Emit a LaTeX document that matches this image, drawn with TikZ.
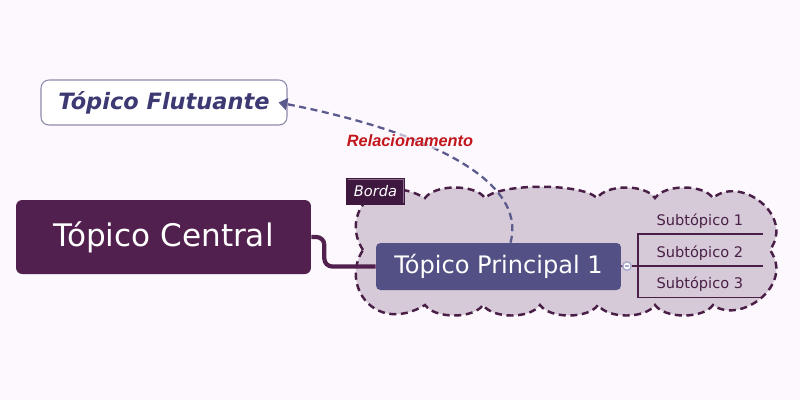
\documentclass[tikz,border=0pt]{standalone}
\usepackage{fontspec}
\setmainfont{DejaVu Sans}
\newfontfamily\relfont{Liberation Sans}
\usepackage{tikz}
\usetikzlibrary{arrows.meta,calc}
\definecolor{bgcol}{HTML}{FCF8FD}
\definecolor{centralcol}{HTML}{52204F}
\definecolor{maincol}{HTML}{525084}
\definecolor{cloudcol}{HTML}{D6CAD8}
\definecolor{cloudline}{HTML}{4A1F47}
\definecolor{bordacol}{HTML}{3E183F}
\definecolor{bordaedge}{HTML}{8E6E8E}
\definecolor{floatline}{HTML}{8F89AD}
\definecolor{floattext}{HTML}{3D3A73}
\definecolor{relcol}{HTML}{5B5A8C}
\definecolor{reltext}{HTML}{C2161C}
\definecolor{foldcol}{HTML}{A9A6CC}
\tikzset
{
    central/.style  = {rectangle, rounded corners=3.5pt, fill=centralcol, text=white, minimum width=5.9cm, minimum height=1.48cm, inner sep=0pt, font=\fontsize{17.7}{20}\selectfont},
    floating/.style = {rectangle, rounded corners=4.5pt, draw=floatline, line width=0.6pt, fill=white, text=floattext, minimum width=4.92cm, minimum height=0.9cm, inner sep=0pt, font=\fontsize{12.8}{15}\selectfont\bfseries\itshape},
    mainnode/.style = {rectangle, rounded corners=2.5pt, fill=maincol, text=white, minimum width=4.9cm, minimum height=0.94cm, inner sep=0pt, font=\fontsize{13.7}{16}\selectfont},
    bordanode/.style = {rectangle, fill=bordacol, text=white, minimum width=1.18cm, minimum height=0.54cm, inner sep=0pt, font=\fontsize{8.3}{10}\selectfont\itshape},
    subnode/.style  = {rectangle, text=cloudline, minimum width=2.5cm, inner xsep=0pt, inner ysep=0pt, text depth=0.17cm, anchor=south west, font=\fontsize{8.3}{10}\selectfont},
    fold/.style     = {circle, fill=white, draw=foldcol, line width=0.8pt, minimum size=0.17cm, inner sep=0pt},
    cloud/.style    = {fill=cloudcol, draw=cloudline, line width=1.4pt, dash pattern=on 4pt off 2.6pt},
    trunk/.style    = {draw=centralcol, line width=2.4pt, rounded corners=4.5pt},
    subline/.style  = {draw=cloudline, line width=1.1pt},
    relline/.style  = {draw=relcol, line width=1.3pt, dash pattern=on 4pt off 2.6pt, -{Triangle[length=5pt,width=6.8pt]}},
    rellabel/.style = {text=reltext, fill=bgcol, fill opacity=0.6, text opacity=1, inner sep=1pt, font=\fontsize{9.3}{11}\selectfont\relfont\bfseries\itshape}
}

\begin{document}
\begin{tikzpicture}[x=0.02cm, y=-0.02cm]
    \fill[bgcol] (0,0) rectangle (800,400);
    \draw[cloud] (363,250) .. controls (340,215) and (375,170) .. (425,198)
        .. controls (435,184) and (475,184) .. (485,198)
        .. controls (500,183) and (582,183) .. (597,198)
        .. controls (607,184) and (645,184) .. (655,198)
        .. controls (665,184) and (703,184) .. (713,198)
        .. controls (740,175) and (795,215) .. (770,250)
        .. controls (795,285) and (740,325) .. (713,305)
        .. controls (703,319) and (665,319) .. (655,305)
        .. controls (645,319) and (608,319) .. (598,305)
        .. controls (588,319) and (550,319) .. (540,305)
        .. controls (530,319) and (493,319) .. (483,305)
        .. controls (473,319) and (435,319) .. (425,305)
        .. controls (375,335) and (340,285) .. (363,250) -- cycle;

    \node[central] (central) at (163.5,237) {Tópico Central};
    \node[floating] (float) at (164,102.5) {Tópico Flutuante};
    \node[mainnode] (main) at (498.5,266.5) {Tópico Principal 1};
    \node[fold] (fold) at (627,266) {};
    \node[bordanode] (borda) at (375.5,191.5) {Borda};
    \node[subnode] (sub1) at (637,234) {Subtópico 1};
    \node[subnode] (sub2) at (637,266) {Subtópico 2};
    \node[subnode] (sub3) at (637,297.5) {Subtópico 3};

    \draw[bordaedge, line width=0.4pt] ($(borda.south east)+(-2,-2)$) -- ($(borda.north east)+(-2,2)$) -- ($(borda.north west)+(2,2)$);

    \draw[trunk] (central.east) -- ++(13,0) |- (main.west);
    \draw[subline] (main.east) -- (fold.west);
    \draw[foldcol, line width=0.8pt] ($(fold.center)+(-2.4,0)$) -- ($(fold.center)+(2.4,0)$);
    \draw[subline] (fold.east) -- ++(6,0) |- (sub1.south west) -- (sub1.south east);
    \draw[subline] (fold.east) -- (sub2.south west) -- (sub2.south east);
    \draw[subline] (fold.east) -- ++(6,0) |- (sub3.south west) -- (sub3.south east);

    \coordinate (relstart) at ($(main.north)+(12,0)$);
    \coordinate (relend) at ($(float.east)+(-9,0)$);
    \draw[relline] (relstart) .. controls (528,178) and (420,130) .. (relend);
    \node[rellabel] (rel) at (410,141) {Relacionamento};
\end{tikzpicture}
\end{document}
